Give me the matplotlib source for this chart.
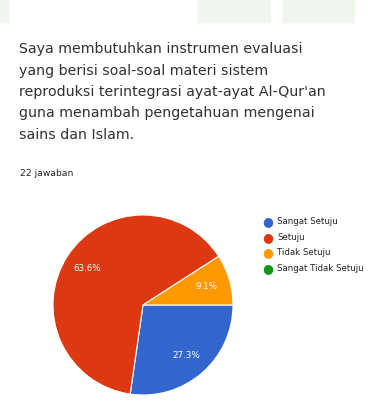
import matplotlib.pyplot as plt
from matplotlib.patches import Rectangle

plt.rcParams['font.family'] = ['DejaVu Sans']

# responses of the survey question (22 answers)
labels = ["Sangat Setuju", "Setuju", "Tidak Setuju", "Sangat Tidak Setuju"]
counts = [6, 14, 2, 0]
colors = ["#3366cc", "#dc3912", "#ff9900", "#109618"]

question_lines = [
    "Saya membutuhkan instrumen evaluasi",
    "yang berisi soal-soal materi sistem",
    "reproduksi terintegrasi ayat-ayat Al-Qur'an",
    "guna menambah pengetahuan mengenai",
    "sains dan Islam.",
]
answer_note = "22 jawaban"


def main():
    fig = plt.figure(figsize=(3.87, 4.05), dpi=100)
    W, H = 387, 405

    # pale tabs along the top edge
    for x0, x1 in [(0, 8), (198, 270), (283, 354)]:
        fig.patches.append(Rectangle((x0 / W, 1 - 22 / H), (x1 - x0) / W, 22 / H,
                                     transform=fig.transFigure,
                                     color="#eef6ee", zorder=0))

    for i, line in enumerate(question_lines):
        fig.text(19 / W, 1 - (49 + i * 21.5) / H, line, fontsize=10.2,
                 color="#303134", va="center", ha="left")
    fig.text(20 / W, 1 - 173 / H, answer_note, fontsize=6.6, color="#202124",
             va="center", ha="left")

    ax = fig.add_axes([53 / W, 10 / H, 180 / W, 180 / H])
    vals = [c for c in counts if c > 0]
    cols = [colors[i] for i, c in enumerate(counts) if c > 0]
    wedges, texts, autotexts = ax.pie(
        vals, colors=cols, startangle=0, counterclock=False,
        autopct="%1.1f%%", pctdistance=0.74,
        wedgeprops=dict(edgecolor="white", linewidth=0.8),
        textprops=dict(color="white", fontsize=6.3))
    ax.set_xlim(-1, 1)
    ax.set_ylim(-1, 1)
    ax.set_aspect("equal")
    ax.axis("off")

    # legend with round markers
    for i, lab in enumerate(labels):
        y = 1 - (222 + i * 15.4) / H
        fig.text(268 / W, y, "\u25CF", color=colors[i], fontsize=9,
                 va="center", ha="center")
        fig.text(277 / W, y, lab, color="#222222", fontsize=6.2,
                 va="center", ha="left")

    fig.savefig("out.png", dpi=100)


if __name__ == "__main__":
    main()
